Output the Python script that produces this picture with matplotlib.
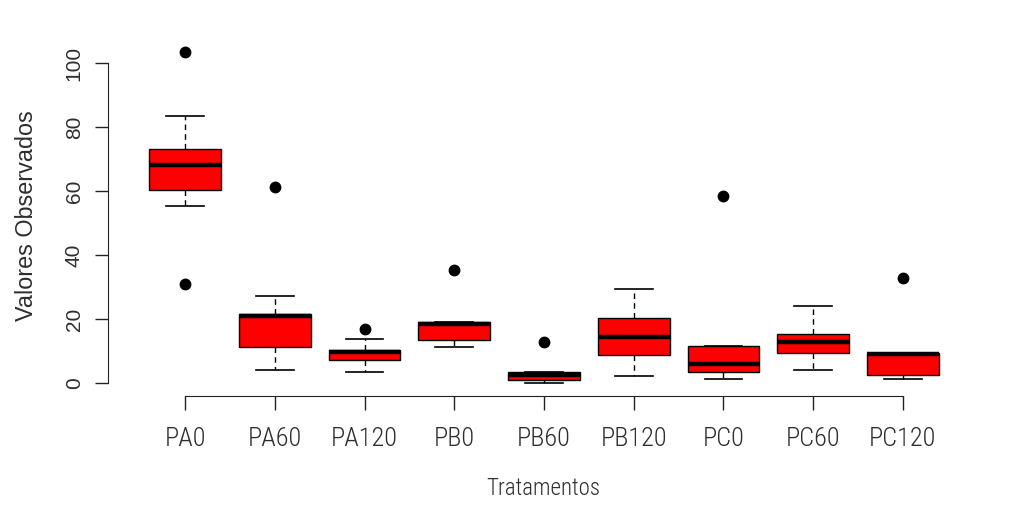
import matplotlib
matplotlib.use("Agg")
import matplotlib.pyplot as plt

labels = ["PA0", "PA60", "PA120", "PB0", "PB60", "PB120", "PC0", "PC60", "PC120"]
q1 = [60.3, 11.3, 7.2, 13.4, 0.9, 8.75, 3.5, 9.5, 2.7]
med = [68.0, 21.0, 9.6, 18.6, 2.5, 14.5, 5.9, 12.9, 9.0]
q3 = [73.0, 21.5, 10.3, 19.2, 3.5, 20.4, 11.7, 15.3, 9.5]
whislo = [55.5, 4.2, 3.6, 11.3, 0.1, 2.4, 1.3, 4.2, 1.3]
whishi = [83.5, 27.2, 13.75, 19.2, 3.5, 29.4, 11.7, 24.0, 9.5]
fliers = [[103.5, 31.0], [61.2], [17.0], [35.3], [12.9], [], [58.4], [], [33.0]]
yticks = [0, 20, 40, 60, 80, 100]

NARROW = ["Roboto Condensed", "Liberation Sans", "DejaVu Sans"]
REGULAR = ["Liberation Sans", "DejaVu Sans"]
TXT = "#2e2e2e"

stats = []
for i, lab in enumerate(labels):
    stats.append(dict(label=lab, q1=q1[i], med=med[i], q3=q3[i],
                      whislo=whislo[i], whishi=whishi[i], fliers=fliers[i]))

fig = plt.figure(figsize=(10.2, 5.17), dpi=100)
ax = fig.add_axes([108 / 1020, (517 - 396) / 517, 872 / 1020, 357.3 / 517])
pos = list(range(1, len(labels) + 1))
ax.bxp(stats, positions=pos, widths=0.8, capwidths=0.42, patch_artist=True,
       boxprops=dict(facecolor="#ff0000", edgecolor="black", linewidth=1.0),
       medianprops=dict(color="black", linewidth=3.2, solid_capstyle="butt"),
       whiskerprops=dict(color="black", linewidth=1.0, linestyle=(0, (4, 3))),
       capprops=dict(color="black", linewidth=1.2),
       flierprops=dict(marker="o", markerfacecolor="black", markeredgecolor="black",
                       markersize=7.5, linestyle="none"))

ax.set_xlim(0.14, 9.86)
ax.set_ylim(-4.0, 107.6)
for s in ["top", "right"]:
    ax.spines[s].set_visible(False)
ax.spines["left"].set_bounds(0, 100)
ax.spines["bottom"].set_bounds(1, 9)
ax.spines["left"].set_color("#222222")
ax.spines["bottom"].set_color("#222222")

ax.set_xticks(pos)
ax.set_xticklabels(labels, fontfamily=NARROW, fontweight="light", fontsize=19, color=TXT)
ax.set_yticks(yticks)
ax.set_yticklabels([str(v) for v in yticks], rotation=90, va="center",
                   fontfamily=REGULAR, fontsize=15, color=TXT)
ax.tick_params(axis="x", length=10, width=1, pad=12, color="#222222")
ax.tick_params(axis="y", length=9.5, width=1, pad=8, color="#222222")

ax.set_xlabel("Tratamentos", fontfamily=NARROW, fontweight="light", fontsize=16.5, color=TXT)
ax.xaxis.set_label_coords(0.5 + (543 - 544) / 872, -(477 - 396) / 357.3)
ax.set_ylabel("Valores Observados", fontfamily=REGULAR, fontsize=16.8, color=TXT)
ax.yaxis.set_label_coords((38 - 108) / 872, (396 - 216) / 357.3)

fig.savefig("out.png", dpi=100, facecolor="white")
